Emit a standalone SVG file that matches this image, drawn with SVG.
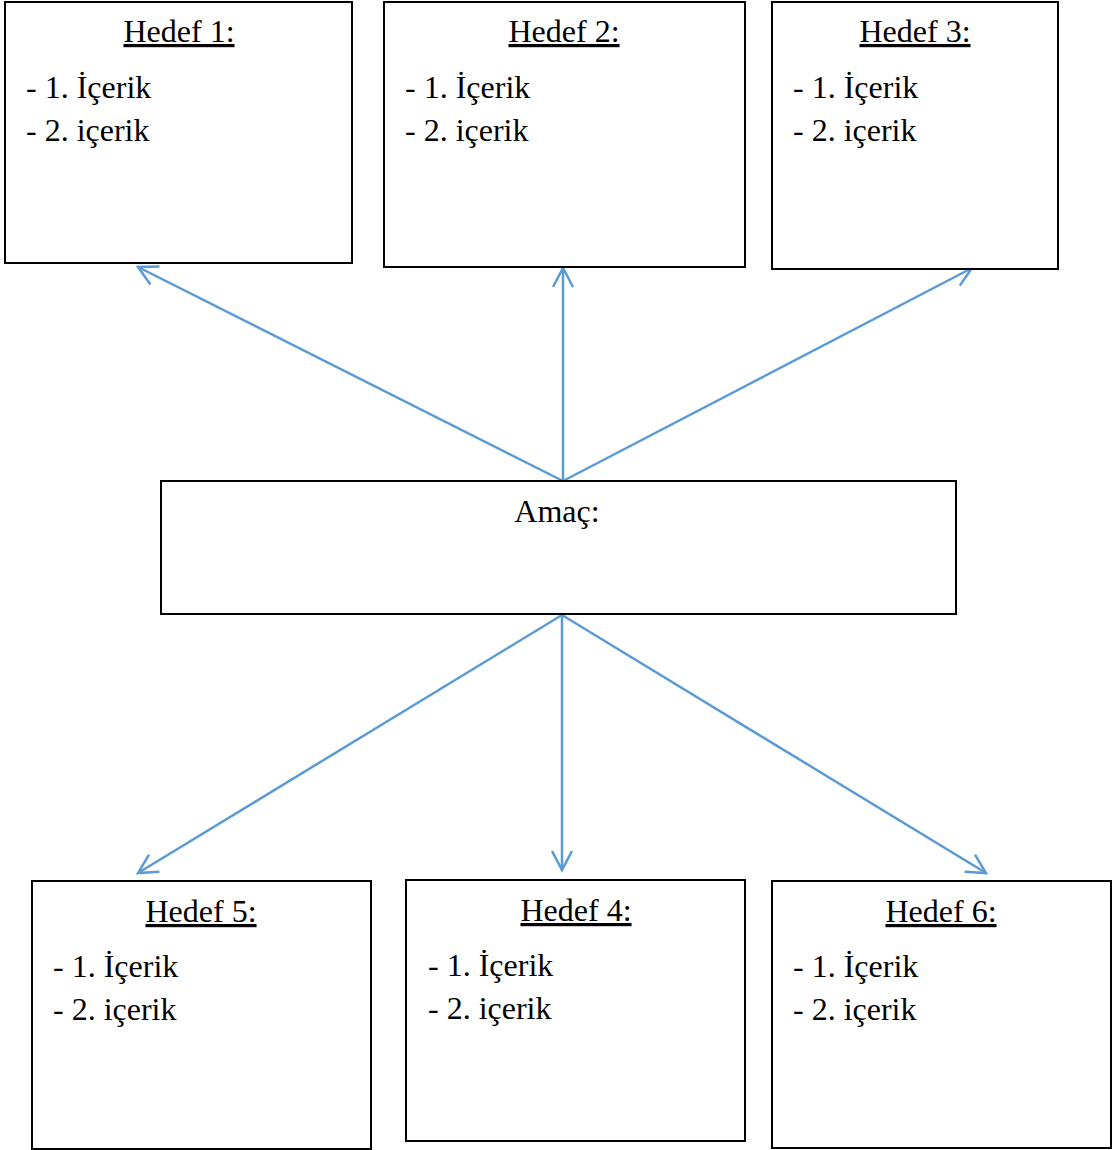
<svg xmlns="http://www.w3.org/2000/svg" width="1114" height="1150" viewBox="0 0 1114 1150">
  <defs>
    <style>
      .box { fill: #ffffff; stroke: #000000; stroke-width: 2; }
      .t { font-family: "Liberation Serif", "Times New Roman", serif; font-size: 32px; fill: #000000; }
      .title { text-anchor: middle; text-decoration: underline; }
      .link { stroke: #5B9BD5; stroke-width: 2.5; fill: none; marker-end: url(#arrow); }
    </style>
    <marker id="arrow" viewBox="0 0 24 24" refX="21" refY="12" markerWidth="24" markerHeight="24" markerUnits="userSpaceOnUse" orient="auto">
      <path d="M2 2 L21 12 L2 22" fill="none" stroke="#5B9BD5" stroke-width="2.5"/>
    </marker>
  </defs>
  <rect width="1114" height="1150" fill="#ffffff"/>

  <g id="connectors">
    <line class="link" x1="563" y1="481" x2="138" y2="267"/>
    <line class="link" x1="563" y1="481" x2="563" y2="268"/>
    <line class="link" x1="563" y1="481" x2="972" y2="268"/>
    <line class="link" x1="562" y1="615" x2="138" y2="873"/>
    <line class="link" x1="562" y1="615" x2="562" y2="870"/>
    <line class="link" x1="562" y1="615" x2="986" y2="873"/>
  </g>

  <g id="hedef1">
    <rect class="box" x="5" y="2" width="347" height="261"/>
    <text class="t title" x="179" y="42">Hedef 1:</text>
    <text class="t" x="26" y="98">- 1. İçerik</text>
    <text class="t" x="26" y="141">- 2. içerik</text>
  </g>
  <g id="hedef2">
    <rect class="box" x="384" y="2" width="361" height="265"/>
    <text class="t title" x="564" y="42">Hedef 2:</text>
    <text class="t" x="405" y="98">- 1. İçerik</text>
    <text class="t" x="405" y="141">- 2. içerik</text>
  </g>
  <g id="hedef3">
    <rect class="box" x="772" y="2" width="286" height="267"/>
    <text class="t title" x="915" y="42">Hedef 3:</text>
    <text class="t" x="793" y="98">- 1. İçerik</text>
    <text class="t" x="793" y="141">- 2. içerik</text>
  </g>
  <g id="amac">
    <rect class="box" x="161" y="481" width="795" height="133"/>
    <text class="t" x="557" y="522" text-anchor="middle">Amaç:</text>
  </g>
  <g id="hedef5">
    <rect class="box" x="32" y="881" width="339" height="268"/>
    <text class="t title" x="201" y="922">Hedef 5:</text>
    <text class="t" x="53" y="977">- 1. İçerik</text>
    <text class="t" x="53" y="1020">- 2. içerik</text>
  </g>
  <g id="hedef4">
    <rect class="box" x="406" y="880" width="339" height="261"/>
    <text class="t title" x="576" y="921">Hedef 4:</text>
    <text class="t" x="428" y="976">- 1. İçerik</text>
    <text class="t" x="428" y="1019">- 2. içerik</text>
  </g>
  <g id="hedef6">
    <rect class="box" x="772" y="881" width="339" height="267"/>
    <text class="t title" x="941" y="922">Hedef 6:</text>
    <text class="t" x="793" y="977">- 1. İçerik</text>
    <text class="t" x="793" y="1020">- 2. içerik</text>
  </g>
</svg>
